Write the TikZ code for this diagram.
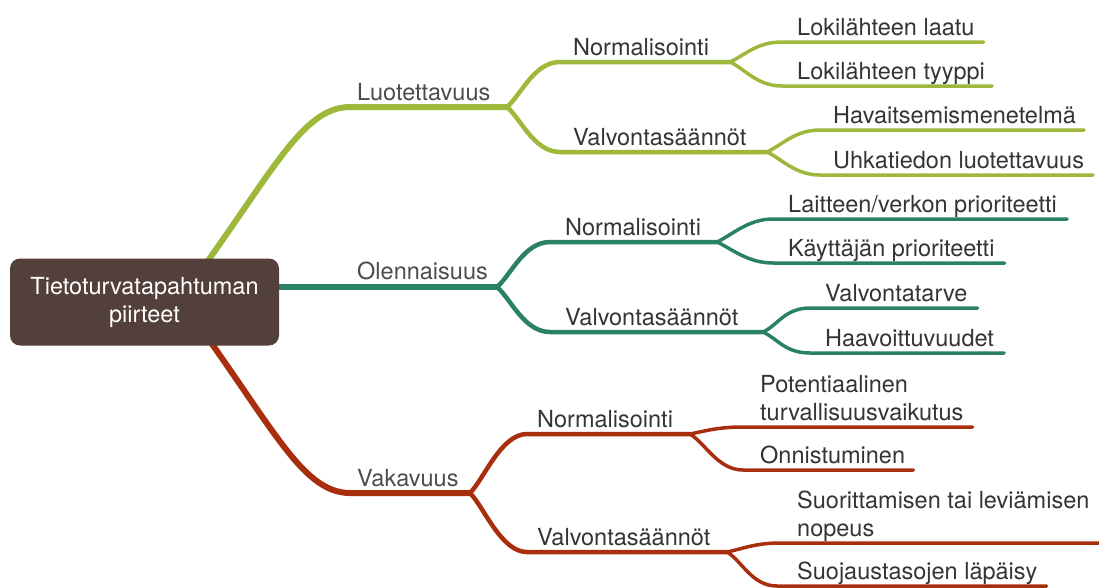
\documentclass[tikz,border=0pt]{standalone}
\usepackage{fontspec}
\setmainfont{TeX Gyre Heros}
\usetikzlibrary{backgrounds}

\definecolor{branchgreen}{RGB}{157,184,58}
\definecolor{branchteal}{RGB}{43,129,99}
\definecolor{branchred}{RGB}{168,46,14}
\definecolor{rootbrown}{RGB}{84,64,58}
\definecolor{labelgray}{RGB}{52,52,48}
\definecolor{toplabelgray}{RGB}{76,76,72}

\begin{document}
\begin{tikzpicture}[x=1pt,y=-1pt,
  roottopic/.style={rounded corners=10pt, fill=rootbrown, text=white, align=center,
    minimum width=269pt, minimum height=87pt, inner sep=0pt,
    font=\fontsize{23.5}{28}\selectfont},
  lbl/.style={anchor=base west, inner sep=0pt, text=labelgray, align=left,
    font=\fontsize{23.5}{28}\selectfont},
  toplbl/.style={lbl, text=toplabelgray},
  lvlone/.style={line width=6pt, line cap=round},
  lvltwo/.style={line width=4.5pt, line cap=round},
  lvlthree/.style={line width=3.5pt, line cap=round},
]
\useasboundingbox (0,0) rectangle (1099,587);

% central topic
\node[roottopic] (root) at (144.5,302) {Tietoturvatapahtuman\\piirteet};

% ---- Luotettavuus (green) ----
\coordinate (gO) at (180,299);
\coordinate (gA) at (350,107);
\coordinate (gF) at (507,107);
\node[toplbl] (luo) at (357,100) {Luotettavuus};
\coordinate (gNa) at (560,62);  \coordinate (gNf) at (730,62);
\node[lbl] (gN) at (573,55) {Normalisointi};
\coordinate (gVa) at (560,152); \coordinate (gVf) at (767,152);
\node[lbl] (gV) at (573,145) {Valvontasäännöt};
\coordinate (gL1) at (782,42);  \node[lbl] (laatu)  at (797,35)  {Lokilähteen laatu};
\coordinate (gL2) at (782,86);  \node[lbl] (tyyppi) at (797,79)  {Lokilähteen tyyppi};
\coordinate (gL3) at (820,130); \node[lbl] (hav)    at (833,123) {Havaitsemismenetelmä};
\coordinate (gL4) at (820,175); \node[lbl] (uhk)    at (833,168) {Uhkatiedon luotettavuus};

% ---- Olennaisuus (teal) ----
\coordinate (tF) at (497,287);
\node[toplbl] (ole) at (357,279) {Olennaisuus};
\coordinate (tNa) at (550,242); \coordinate (tNf) at (717,242);
\node[lbl] (tN) at (565,235) {Normalisointi};
\coordinate (tVa) at (550,332); \coordinate (tVf) at (763,332);
\node[lbl] (tV) at (565,325) {Valvontasäännöt};
\coordinate (tL1) at (773,219); \node[lbl] (lait)  at (788,212) {Laitteen/verkon prioriteetti};
\coordinate (tL2) at (773,263); \node[lbl] (kayt)  at (788,256) {Käyttäjän prioriteetti};
\coordinate (tL3) at (810,308); \node[lbl] (tarve) at (825,301) {Valvontatarve};
\coordinate (tL4) at (810,353); \node[lbl] (haav)  at (825,346) {Haavoittuvuudet};

% ---- Vakavuus (red) ----
\coordinate (rO) at (180,300);
\coordinate (rA) at (350,493);
\coordinate (rF) at (470,493);
\node[toplbl] (vak) at (357,486) {Vakavuus};
\coordinate (rNa) at (527,434); \coordinate (rNf) at (690,434);
\node[lbl] (rN) at (537,427) {Normalisointi};
\coordinate (rVa) at (527,552); \coordinate (rVf) at (727,552);
\node[lbl] (rV) at (537,545) {Valvontasäännöt};
% multi-line labels: the base anchor sits on the last line
\coordinate (rL1) at (743,427); \node[lbl] (pot)  at (760,420) {Potentiaalinen\\turvallisuusvaikutus};
\coordinate (rL2) at (743,470); \node[lbl] (onn)  at (760,463) {Onnistuminen};
\coordinate (rL3) at (780,543); \node[lbl] (suor) at (797,536) {Suorittamisen tai leviämisen\\nopeus};
\coordinate (rL4) at (777,586); \node[lbl] (suoj) at (797,579) {Suojaustasojen läpäisy};

\begin{scope}[on background layer]
  % green branch
  \begin{scope}[draw=branchgreen]
    \draw[lvlone] (gO) .. controls (270,179) and (300,107) .. (gA) -- (gF);
    \draw[lvltwo] (gF) .. controls +(14,-12) and +(-26,0) .. (gNa) -- (gNf);
    \draw[lvltwo] (gF) .. controls +(14,12) and +(-26,0) .. (gVa) -- (gVf);
    \draw[lvlthree] (gNf) .. controls +(15,-7) and +(-25,0) .. (gL1) -- (gL1 -| laatu.east) -- ++(9,0);
    \draw[lvlthree] (gNf) .. controls +(15,7) and +(-25,0) .. (gL2) -- (gL2 -| tyyppi.east) -- ++(7,0);
    \draw[lvlthree] (gVf) .. controls +(15,-7) and +(-25,0) .. (gL3) -- (gL3 -| hav.east) -- ++(8,0);
    \draw[lvlthree] (gVf) .. controls +(15,7) and +(-25,0) .. (gL4) -- (gL4 -| uhk.east) -- ++(9,0);
  \end{scope}
  % teal branch
  \begin{scope}[draw=branchteal]
    \draw[lvlone] (root.center |- tF) -- (tF);
    \draw[lvltwo] (tF) .. controls +(14,-12) and +(-26,0) .. (tNa) -- (tNf);
    \draw[lvltwo] (tF) .. controls +(14,12) and +(-26,0) .. (tVa) -- (tVf);
    \draw[lvlthree] (tNf) .. controls +(15,-7) and +(-25,0) .. (tL1) -- (tL1 -| lait.east) -- ++(10,0);
    \draw[lvlthree] (tNf) .. controls +(15,7) and +(-25,0) .. (tL2) -- (tL2 -| kayt.east) -- ++(10,0);
    \draw[lvlthree] (tVf) .. controls +(15,-7) and +(-25,0) .. (tL3) -- (tL3 -| tarve.east) -- ++(10,0);
    \draw[lvlthree] (tVf) .. controls +(15,7) and +(-25,0) .. (tL4) -- (tL4 -| haav.east) -- ++(10,0);
  \end{scope}
  % red branch
  \begin{scope}[draw=branchred]
    \draw[lvlone] (rO) .. controls (270,420) and (300,493) .. (rA) -- (rF);
    \draw[lvltwo] (rF) .. controls +(14,-14) and +(-26,0) .. (rNa) -- (rNf);
    \draw[lvltwo] (rF) .. controls +(14,14) and +(-26,0) .. (rVa) -- (rVf);
    \draw[lvlthree] (rNf) .. controls +(15,-3) and +(-25,0) .. (rL1) -- (rL1 -| pot.east) -- ++(9,0);
    \draw[lvlthree] (rNf) .. controls +(15,9) and +(-25,0) .. (rL2) -- (rL2 -| onn.east) -- ++(8,0);
    \draw[lvlthree] (rVf) .. controls +(15,-3) and +(-25,0) .. (rL3) -- (rL3 -| suor.east) -- ++(9,0);
    \draw[lvlthree] (rVf) .. controls +(15,9) and +(-25,0) .. (rL4) -- (rL4 -| suoj.east) -- ++(9,0);
  \end{scope}
\end{scope}
\end{tikzpicture}
\end{document}
